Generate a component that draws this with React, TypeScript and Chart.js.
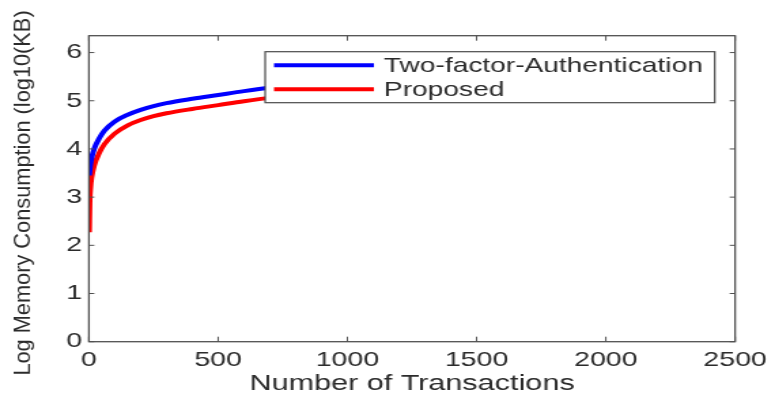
import React, { useEffect, useRef } from "react";
import { Chart, registerables } from "chart.js";

Chart.register(...registerables);

// ---- data ----
const transactions = [1, 3, 6, 10, 20, 40, 60, 100, 150, 200, 250, 300, 400, 500, 600, 700, 800, 900, 1000];
const twoFactorAuth = [3.45, 3.55, 3.68, 3.8, 4.0, 4.22, 4.38, 4.57, 4.71, 4.81, 4.89, 4.95, 5.04, 5.12, 5.2, 5.27, 5.32, 5.37, 5.41];
const proposed = [2.27, 2.9, 3.2, 3.4, 3.65, 3.92, 4.1, 4.32, 4.49, 4.6, 4.68, 4.74, 4.83, 4.91, 4.99, 5.06, 5.11, 5.16, 5.2];
const seriesLabels = ["Two-factor-Authentication", "Proposed"];
const seriesColors = ["#0000ff", "#ff0000"];
const xTickValues = [0, 500, 1000, 1500, 2000, 2500];
const yTickValues = [0, 1, 2, 3, 4, 5, 6];
const xTitle = "Number of Transactions";
const yTitle = "Log Memory Consumption (log10(KB)";

// ---- layout (internal canvas units; canvas is stretched horizontally) ----
const SX = 1.36;
const PAGE_W = 775;
const PAGE_H = 401;
const CW = Math.round(PAGE_W / SX);
const CH = PAGE_H;
const FONT = "'Liberation Sans', Arial, Helvetica, sans-serif";
const TEXT = "#2b2b2b";
const AXIS = "#505050";

const boxPlugin = {
  id: "matlabBox",
  afterDatasetsDraw(chart: any) {
    const { ctx, chartArea } = chart;
    const { left, right, top, bottom } = chartArea;
    const xs = chart.scales.x;
    const ys = chart.scales.y;
    ctx.save();
    ctx.strokeStyle = AXIS;
    ctx.lineWidth = 1.3;
    ctx.strokeRect(left, top, right - left, bottom - top);
    ctx.lineWidth = 1;
    ctx.beginPath();
    xTickValues.forEach((v) => {
      const px = xs.getPixelForValue(v);
      ctx.moveTo(px, bottom);
      ctx.lineTo(px, bottom - 5);
      ctx.moveTo(px, top);
      ctx.lineTo(px, top + 5);
    });
    yTickValues.forEach((v) => {
      const py = ys.getPixelForValue(v);
      ctx.moveTo(left, py);
      ctx.lineTo(left + 4, py);
      ctx.moveTo(right, py);
      ctx.lineTo(right - 4, py);
    });
    ctx.stroke();
    ctx.restore();
  },
  afterDraw(chart: any) {
    const { ctx } = chart;
    // legend box
    ctx.save();
    ctx.font = `20.7px ${FONT}`;
    const widths = chart.data.datasets.map((d: any) => ctx.measureText(d.label).width);
    const maxW = Math.max(...widths);
    const boxW = 87.3 + maxW + 8.8;
    const boxH = 51;
    const bx = 525.7 - boxW;
    const by = 51.7;
    ctx.fillStyle = "#ffffff";
    ctx.fillRect(bx, by, boxW, boxH);
    ctx.strokeStyle = "#4a4a4a";
    ctx.lineWidth = 1.2;
    ctx.strokeRect(bx, by, boxW, boxH);
    const rows = [13.5, 37.5];
    chart.data.datasets.forEach((d: any, i: number) => {
      const y = by + rows[i];
      ctx.strokeStyle = d.borderColor;
      ctx.lineWidth = 4;
      ctx.beginPath();
      ctx.moveTo(bx + 6.5, y);
      ctx.lineTo(bx + 80, y);
      ctx.stroke();
      ctx.fillStyle = TEXT;
      ctx.textAlign = "left";
      ctx.textBaseline = "middle";
      ctx.fillText(d.label, bx + 87.3, y + 1);
    });
    ctx.restore();

    // y-axis title (condensed along its length in the reference)
    ctx.save();
    ctx.translate(17.6, 193);
    ctx.rotate(-Math.PI / 2);
    ctx.scale(SX, 1);
    ctx.font = `16px ${FONT}`;
    ctx.fillStyle = TEXT;
    ctx.textAlign = "center";
    ctx.textBaseline = "middle";
    ctx.fillText(yTitle, 0, 0);
    ctx.restore();
  },
};

export default function App() {
  const ref = useRef<HTMLCanvasElement | null>(null);

  useEffect(() => {
    if (!ref.current) return;
    const chart = new Chart(ref.current, {
      type: "line",
      data: {
        datasets: [
          {
            label: seriesLabels[0],
            data: transactions.map((x, i) => ({ x, y: twoFactorAuth[i] })),
            borderColor: seriesColors[0],
            backgroundColor: seriesColors[0],
            borderWidth: 4,
            pointRadius: 0,
            cubicInterpolationMode: "monotone",
            fill: false,
          },
          {
            label: seriesLabels[1],
            data: transactions.map((x, i) => ({ x, y: proposed[i] })),
            borderColor: seriesColors[1],
            backgroundColor: seriesColors[1],
            borderWidth: 4,
            pointRadius: 0,
            cubicInterpolationMode: "monotone",
            fill: false,
          },
        ],
      },
      options: {
        responsive: false,
        devicePixelRatio: 1,
        animation: false,
        layout: { padding: { left: 0, right: CW - 542.6, top: 35.7, bottom: 0 } },
        plugins: {
          legend: { display: false },
          tooltip: { enabled: false },
        },
        scales: {
          x: {
            type: "linear",
            min: 0,
            max: 2500,
            grid: { display: false, drawTicks: false },
            border: { display: false },
            ticks: {
              stepSize: 500,
              padding: 6,
              maxRotation: 0,
              color: TEXT,
              font: { family: FONT, size: 21 },
              callback: (v: any) => String(v),
            },
            title: {
              display: true,
              text: xTitle,
              color: TEXT,
              font: { family: FONT, size: 22.5 },
              padding: { top: 0, bottom: 4 },
            },
            afterFit(scale: any) {
              scale.height = PAGE_H - 341.7;
            },
          },
          y: {
            type: "linear",
            min: 0,
            max: 6.35,
            grid: { display: false, drawTicks: false },
            border: { display: false },
            ticks: {
              stepSize: 1,
              includeBounds: false,
              padding: 5,
              color: TEXT,
              font: { family: FONT, size: 21 },
              callback: (v: any) => String(v),
            },
            afterFit(scale: any) {
              scale.width = 65.4;
            },
          },
        },
      },
      plugins: [boxPlugin],
    } as any);
    return () => chart.destroy();
  }, []);

  return (
    <div style={{ position: "fixed", left: 0, top: 0, width: PAGE_W, height: PAGE_H, background: "#fff" }}>
      <canvas
        ref={ref}
        width={CW}
        height={CH}
        style={{ width: `${PAGE_W}px`, height: `${PAGE_H}px`, display: "block" }}
      />
    </div>
  );
}
